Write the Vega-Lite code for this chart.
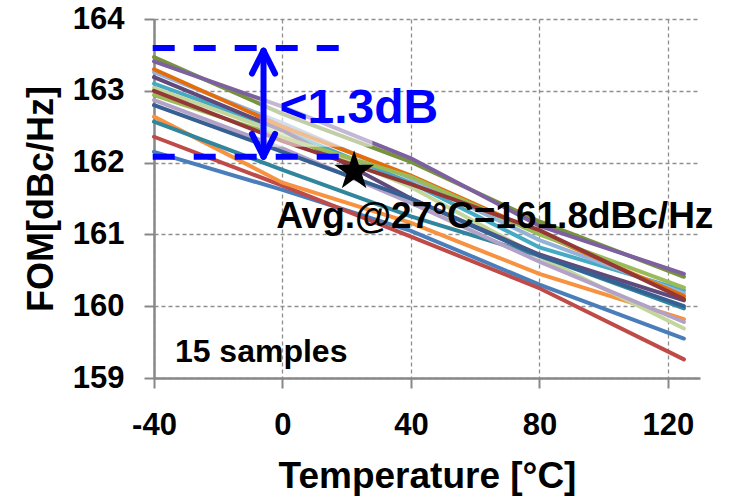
{
  "$schema": "https://vega.github.io/schema/vega-lite/v6.json",
  "autosize": "none",
  "width": 546,
  "height": 359,
  "padding": {"left": 154, "top": 19, "right": 29, "bottom": 122},
  "background": "white",
  "config": {
    "view": {"stroke": null},
    "font": "Liberation Sans"
  },
  "datasets": {
    "lines": [
      {"series": "S01", "t": -40, "v": 162.15}, {"series": "S01", "t": 0, "v": 161.62}, {"series": "S01", "t": 40, "v": 161.05}, {"series": "S01", "t": 80, "v": 160.3}, {"series": "S01", "t": 125, "v": 159.55},
      {"series": "S02", "t": -40, "v": 162.36}, {"series": "S02", "t": 0, "v": 161.68}, {"series": "S02", "t": 40, "v": 160.97}, {"series": "S02", "t": 80, "v": 160.25}, {"series": "S02", "t": 125, "v": 159.26},
      {"series": "S03", "t": -40, "v": 163.47}, {"series": "S03", "t": 0, "v": 162.68}, {"series": "S03", "t": 40, "v": 162.01}, {"series": "S03", "t": 80, "v": 161.18}, {"series": "S03", "t": 125, "v": 160.41},
      {"series": "S04", "t": -40, "v": 163.41}, {"series": "S04", "t": 0, "v": 162.78}, {"series": "S04", "t": 40, "v": 162.06}, {"series": "S04", "t": 80, "v": 161.12}, {"series": "S04", "t": 125, "v": 160.45},
      {"series": "S05", "t": -40, "v": 163.1}, {"series": "S05", "t": 0, "v": 162.45}, {"series": "S05", "t": 40, "v": 161.72}, {"series": "S05", "t": 80, "v": 160.82}, {"series": "S05", "t": 125, "v": 160.22},
      {"series": "S06", "t": -40, "v": 162.64}, {"series": "S06", "t": 0, "v": 161.72}, {"series": "S06", "t": 40, "v": 161.16}, {"series": "S06", "t": 80, "v": 160.45}, {"series": "S06", "t": 125, "v": 159.82},
      {"series": "S07", "t": -40, "v": 162.57}, {"series": "S07", "t": 0, "v": 161.9}, {"series": "S07", "t": 40, "v": 161.25}, {"series": "S07", "t": 80, "v": 160.7}, {"series": "S07", "t": 125, "v": 159.97},
      {"series": "S08", "t": -40, "v": 163.26}, {"series": "S08", "t": 0, "v": 162.55}, {"series": "S08", "t": 40, "v": 161.78}, {"series": "S08", "t": 80, "v": 160.92}, {"series": "S08", "t": 125, "v": 160.18},
      {"series": "S09", "t": -40, "v": 163.04}, {"series": "S09", "t": 0, "v": 162.4}, {"series": "S09", "t": 40, "v": 161.66}, {"series": "S09", "t": 80, "v": 160.69}, {"series": "S09", "t": 125, "v": 159.69},
      {"series": "S10", "t": -40, "v": 162.87}, {"series": "S10", "t": 0, "v": 162.2}, {"series": "S10", "t": 40, "v": 161.44}, {"series": "S10", "t": 80, "v": 160.62}, {"series": "S10", "t": 125, "v": 159.78},
      {"series": "S11", "t": -40, "v": 163.19}, {"series": "S11", "t": 0, "v": 162.45}, {"series": "S11", "t": 40, "v": 161.5}, {"series": "S11", "t": 80, "v": 160.72}, {"series": "S11", "t": 125, "v": 160.08},
      {"series": "S12", "t": -40, "v": 163.3}, {"series": "S12", "t": 0, "v": 162.5}, {"series": "S12", "t": 40, "v": 161.82}, {"series": "S12", "t": 80, "v": 161.02}, {"series": "S12", "t": 125, "v": 160.14},
      {"series": "S13", "t": -40, "v": 162.94}, {"series": "S13", "t": 0, "v": 162.35}, {"series": "S13", "t": 40, "v": 161.8}, {"series": "S13", "t": 80, "v": 161.0}, {"series": "S13", "t": 125, "v": 160.26},
      {"series": "S14", "t": -40, "v": 163.0}, {"series": "S14", "t": 0, "v": 162.3}, {"series": "S14", "t": 40, "v": 161.7}, {"series": "S14", "t": 80, "v": 161.06}, {"series": "S14", "t": 125, "v": 160.1},
      {"series": "S15", "t": -40, "v": 162.8}, {"series": "S15", "t": 0, "v": 162.15}, {"series": "S15", "t": 40, "v": 161.5}, {"series": "S15", "t": 80, "v": 160.7}, {"series": "S15", "t": 125, "v": 160.0}
    ],
    "fade": [{"t": -7, "t2": 28, "v": 162.22, "v2": 162.91}],
    "dashes": [
      {"t": -40.4, "t2": 19.2, "v": 163.596, "v2": 163.596},
      {"t": -40.4, "t2": 19.7, "v": 162.082, "v2": 162.082}
    ],
    "arrow": [
      {"t": -5.9, "t2": -5.9, "v": 163.54, "v2": 162.1},
      {"t": -5.9, "t2": -9.5, "v": 163.56, "v2": 163.24},
      {"t": -5.9, "t2": -2.3, "v": 163.56, "v2": 163.24},
      {"t": -5.9, "t2": -9.5, "v": 162.08, "v2": 162.4},
      {"t": -5.9, "t2": -2.3, "v": 162.08, "v2": 162.4}
    ],
    "star": [{"t": 22.3, "v": 161.88}],
    "labels": [
      {"t": -0.93, "v": 162.547, "label": "<1.3dB", "kind": "diff"},
      {"t": -1.95, "v": 161.085, "label": "Avg.@27°C=161.8dBc/Hz", "kind": "avg"},
      {"t": -33.5, "v": 159.227, "label": "15 samples", "kind": "n"}
    ]
  },
  "encoding": {
    "x": {
      "field": "t", "type": "quantitative",
      "scale": {"domain": [-40, 130], "nice": false, "zero": false},
      "axis": {
        "values": [-40, 0, 40, 80, 120],
        "labelExpr": "replace(datum.label, '\u2212', '-')",
        "title": "Temperature [°C]",
        "grid": true, "gridDash": [4, 3], "gridColor": "#8f8f8f", "gridWidth": 1.3,
        "domainColor": "#888888", "domainWidth": 2.5,
        "tickColor": "#888888", "tickWidth": 2, "tickSize": 10,
        "labelFont": "Liberation Sans", "labelFontSize": 31, "labelFontWeight": "bold", "labelColor": "#000000",
        "labelPadding": 22, "labelFlush": false,
        "titleFont": "Liberation Sans", "titleFontSize": 37, "titleFontWeight": "bold", "titleColor": "#000000",
        "titlePadding": 18
      }
    },
    "y": {
      "field": "v", "type": "quantitative",
      "scale": {"domain": [159, 164], "nice": false, "zero": false},
      "axis": {
        "values": [159, 160, 161, 162, 163, 164],
        "title": "FOM[dBc/Hz]",
        "grid": true, "gridDash": [4, 3], "gridColor": "#8f8f8f", "gridWidth": 1.3,
        "domainColor": "#888888", "domainWidth": 2.5,
        "tickColor": "#888888", "tickWidth": 2, "tickSize": 10,
        "labelFont": "Liberation Sans", "labelFontSize": 31, "labelFontWeight": "bold", "labelColor": "#000000",
        "labelPadding": 20,
        "titleFont": "Liberation Sans", "titleFontSize": 36, "titleFontWeight": "bold", "titleColor": "#000000",
        "titlePadding": 12
      }
    }
  },
  "layer": [
    {
      "data": {"name": "lines"},
      "mark": {"type": "line", "strokeWidth": 4, "strokeCap": "round", "clip": false},
      "encoding": {
        "color": {
          "field": "series", "type": "nominal", "legend": null,
          "scale": {
            "domain": ["S01", "S02", "S03", "S04", "S05", "S06", "S07", "S08", "S09", "S10", "S11", "S12", "S13", "S14", "S15"],
            "range": ["#4A7EBB", "#BE4B48", "#77933C", "#7D60A0", "#46AAC5", "#F69240", "#31859C", "#95B3D7", "#C3D69B", "#B3A2C7", "#604A7B", "#E46C0A", "#9BBB59", "#953735", "#376092"]
          }
        }
      }
    },
    {
      "data": {"name": "fade"},
      "mark": {"type": "rect", "color": "#ffffff", "opacity": 0.55},
      "encoding": {"x2": {"field": "t2"}, "y2": {"field": "v2"}}
    },
    {
      "data": {"name": "dashes"},
      "mark": {"type": "rule", "color": "#0000FF", "strokeWidth": 6, "strokeDash": [22, 19], "strokeCap": "butt"},
      "encoding": {"x2": {"field": "t2"}, "y2": {"field": "v2"}}
    },
    {
      "data": {"name": "arrow"},
      "mark": {"type": "rule", "color": "#0000FF", "strokeWidth": 6, "strokeCap": "round"},
      "encoding": {"x2": {"field": "t2"}, "y2": {"field": "v2"}}
    },
    {
      "data": {"name": "star"},
      "mark": {
        "type": "point", "filled": true, "color": "#000000", "opacity": 1, "size": 1760,
        "shape": "M0,-1L0.225,-0.309L0.951,-0.309L0.363,0.118L0.588,0.809L0,0.382L-0.588,0.809L-0.363,0.118L-0.951,-0.309L-0.225,-0.309Z"
      }
    },
    {
      "data": {"name": "labels"},
      "transform": [{"filter": "datum.kind === 'diff'"}],
      "mark": {"type": "text", "align": "left", "baseline": "alphabetic", "font": "Liberation Sans", "fontSize": 48, "fontWeight": "bold", "color": "#0000FF"},
      "encoding": {"text": {"field": "label"}}
    },
    {
      "data": {"name": "labels"},
      "transform": [{"filter": "datum.kind === 'avg'"}],
      "mark": {"type": "text", "align": "left", "baseline": "alphabetic", "font": "Liberation Sans", "fontSize": 37, "fontWeight": "bold", "color": "#000000"},
      "encoding": {"text": {"field": "label"}}
    },
    {
      "data": {"name": "labels"},
      "transform": [{"filter": "datum.kind === 'n'"}],
      "mark": {"type": "text", "align": "left", "baseline": "alphabetic", "font": "Liberation Sans", "fontSize": 32, "fontWeight": "bold", "color": "#000000"},
      "encoding": {"text": {"field": "label"}}
    }
  ]
}
